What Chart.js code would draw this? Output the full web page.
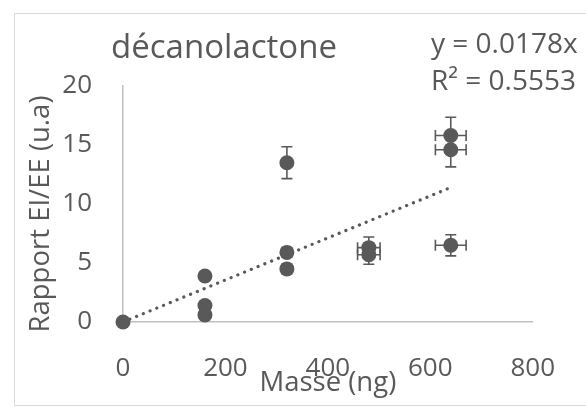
<!DOCTYPE html>
<html>
<head>
<meta charset="utf-8">
<script src="https://cdn.jsdelivr.net/npm/chart.js@4/dist/chart.umd.min.js"></script>
<style>
  html, body { margin: 0; padding: 0; background: #ffffff; }
  #wrap { width: 586px; height: 407px; position: relative; }
</style>
</head>
<body>
<div id="wrap"><canvas id="c" width="586" height="407"></canvas></div>
<script>
// ---- data ----
const massValues  = [0, 160, 160, 160, 320, 320, 320, 480, 480, 640, 640, 640];
const ratioValues = [0, 3.9, 1.4, 0.6, 13.5, 5.9, 4.5, 6.3, 5.7, 15.8, 14.6, 6.5];
const massErrors  = [0, 0, 0, 0, 0, 0, 0, 22, 22, 30, 30, 30];
const ratioErrors = [0, 0, 0, 0, 1.35, 0.4, 0.4, 0.9, 0.8, 1.55, 1.45, 0.9];
const trendMass   = [0, 640];
const trendRatio  = [0, 11.4];
const xTicks = [0, 200, 400, 600, 800];
const yTicks = [0, 5, 10, 15, 20];
const chartTitle = 'décanolactone';
const equationLines = ['y = 0.0178x', 'R² = 0.5553'];
const xTitle = 'Masse (ng)';
const yTitle = 'Rapport EI/EE (u.a)';

const GREY = '#595959';
const AXIS = '#bfbfbf';
const FONT = "'Open Sans', sans-serif";

const points = massValues.map((x, i) => ({ x: x, y: ratioValues[i], xe: massErrors[i], ye: ratioErrors[i] }));
const trend = trendMass.map((x, i) => ({ x: x, y: trendRatio[i] }));

const frame = {
  id: 'frame',
  beforeDraw(chart) {
    const ctx = chart.ctx;
    ctx.save();
    ctx.fillStyle = '#ffffff';
    ctx.fillRect(0, 0, chart.width, chart.height);
    ctx.strokeStyle = '#d9d9d9';
    ctx.lineWidth = 1;
    ctx.strokeRect(14.5, 13.5, 640, 392);
    ctx.restore();
  }
};

const errorBars = {
  id: 'errorBars',
  afterDatasetsDraw(chart) {
    const ctx = chart.ctx;
    const xs = chart.scales.x, ys = chart.scales.y;
    const cap = 5.5;
    ctx.save();
    ctx.strokeStyle = GREY;
    ctx.lineWidth = 1.6;
    points.forEach(p => {
      const px = xs.getPixelForValue(p.x), py = ys.getPixelForValue(p.y);
      if (p.ye > 0) {
        const t = ys.getPixelForValue(p.y + p.ye), b = ys.getPixelForValue(p.y - p.ye);
        ctx.beginPath();
        ctx.moveTo(px, t); ctx.lineTo(px, b);
        ctx.moveTo(px - cap, t); ctx.lineTo(px + cap, t);
        ctx.moveTo(px - cap, b); ctx.lineTo(px + cap, b);
        ctx.stroke();
      }
      if (p.xe > 0) {
        const l = xs.getPixelForValue(p.x - p.xe), r = xs.getPixelForValue(p.x + p.xe);
        ctx.beginPath();
        ctx.moveTo(l, py); ctx.lineTo(r, py);
        ctx.moveTo(l, py - cap); ctx.lineTo(l, py + cap);
        ctx.moveTo(r, py - cap); ctx.lineTo(r, py + cap);
        ctx.stroke();
      }
    });
    ctx.restore();
  }
};

const texts = {
  id: 'texts',
  afterDraw(chart) {
    const ctx = chart.ctx;
    ctx.save();
    ctx.fillStyle = GREY;
    ctx.textBaseline = 'alphabetic';
    ctx.textAlign = 'center';
    ctx.font = "33px " + FONT;
    ctx.fillText(chartTitle, 224, 58);
    ctx.textAlign = 'left';
    ctx.font = "28px " + FONT;
    ctx.fillText(equationLines[0], 431, 53);
    ctx.fillText(equationLines[1], 431, 90);
    // vertical axis title
    ctx.translate(41, 214);
    ctx.rotate(-Math.PI / 2);
    ctx.textAlign = 'center';
    ctx.textBaseline = 'middle';
    ctx.font = "27.5px " + FONT;
    ctx.fillText(yTitle, 0, 0);
    ctx.restore();
  }
};

new Chart(document.getElementById('c'), {
  type: 'scatter',
  data: {
    datasets: [
      {
        label: 'data',
        data: points,
        backgroundColor: GREY,
        borderColor: GREY,
        pointRadius: 7.5,
        pointHoverRadius: 7.5,
        borderWidth: 0,
        clip: false,
        order: 1
      },
      {
        type: 'line',
        label: 'trend',
        data: trend,
        borderColor: GREY,
        borderWidth: 3.2,
        borderDash: [0.1, 7.2],
        borderCapStyle: 'round',
        pointRadius: 0,
        fill: false,
        order: 2
      }
    ]
  },
  options: {
    responsive: false,
    animation: false,
    events: [],
    layout: { padding: { left: 14, top: 86, right: 48, bottom: 0 } },
    plugins: { legend: { display: false }, tooltip: { enabled: false }, title: { display: false } },
    scales: {
      x: {
        type: 'linear',
        min: xTicks[0], max: xTicks[xTicks.length - 1],
        afterBuildTicks(scale) { scale.ticks = xTicks.map(v => ({ value: v })); },
        afterFit(scale) { scale.height = 85; },
        grid: { display: false, drawTicks: false },
        border: { display: true, color: AXIS, width: 1.5 },
        ticks: { color: GREY, font: { family: FONT, size: 26 }, padding: 31, maxRotation: 0 },
        title: { display: true, text: xTitle, color: GREY, font: { family: FONT, size: 27.5 }, padding: { top: 0, bottom: 7 } }
      },
      y: {
        type: 'linear',
        min: yTicks[0], max: yTicks[yTicks.length - 1],
        afterBuildTicks(scale) { scale.ticks = yTicks.map(v => ({ value: v })); },
        afterFit(scale) { scale.width = 109; },
        grid: { display: false, drawTicks: false },
        border: { display: true, color: AXIS, width: 1.5 },
        ticks: { color: GREY, font: { family: FONT, size: 26 }, padding: 31 },
        title: { display: false }
      }
    }
  },
  plugins: [frame, errorBars, texts]
});
</script>
</body>
</html>
